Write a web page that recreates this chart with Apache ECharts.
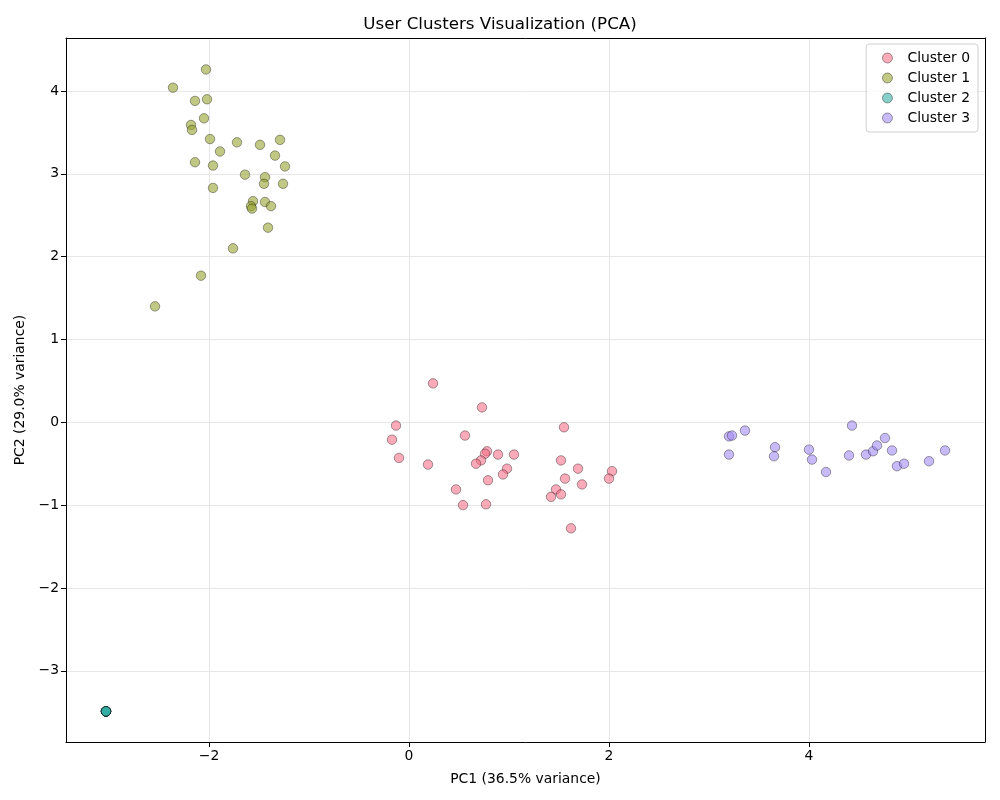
<!DOCTYPE html>
<html>
<head>
<meta charset="utf-8">
<title>User Clusters Visualization (PCA)</title>
<script src="https://cdn.jsdelivr.net/npm/echarts/dist/echarts.min.js"></script>
<style>
    html, body { margin: 0; padding: 0; background: #fff; }
    #pca-cluster-chart { width: 1000px; height: 800px; }
</style>
</head>
<body>
<div id="pca-cluster-chart"></div>
<script>
// values, [PC1, PC2]
var clusterNames = ['Cluster 0', 'Cluster 1', 'Cluster 2', 'Cluster 3'];
var clusterColors = ['#f77189', '#97a431', '#36ada4', '#a48cf4'];

var cluster0 = [
    [0.24, 0.47], [0.73, 0.18], [-0.13, -0.04], [-0.17, -0.21], [0.56, -0.16],
    [-0.10, -0.43], [0.19, -0.51], [0.78, -0.35], [0.76, -0.38], [0.89, -0.39],
    [0.72, -0.46], [0.67, -0.50], [0.98, -0.56], [0.94, -0.63], [0.79, -0.70],
    [0.47, -0.81], [0.54, -1.00], [0.77, -0.99], [1.05, -0.39], [1.55, -0.06],
    [1.52, -0.46], [1.69, -0.56], [1.56, -0.68], [1.73, -0.75], [1.47, -0.81],
    [1.42, -0.90], [1.52, -0.87], [2.03, -0.59], [2.00, -0.68], [1.62, -1.28]
];
var cluster1 = [
    [-2.03, 4.26], [-2.36, 4.04], [-2.14, 3.88], [-2.02, 3.90], [-2.05, 3.67],
    [-2.18, 3.59], [-2.17, 3.53], [-1.99, 3.42], [-1.72, 3.38], [-1.49, 3.35],
    [-1.29, 3.41], [-1.89, 3.27], [-1.34, 3.22], [-2.14, 3.14], [-1.96, 3.10],
    [-1.24, 3.09], [-1.64, 2.99], [-1.44, 2.96], [-1.45, 2.88], [-1.26, 2.88],
    [-1.96, 2.83], [-1.56, 2.67], [-1.44, 2.66], [-1.38, 2.61], [-1.58, 2.61],
    [-1.57, 2.58], [-1.41, 2.35], [-1.76, 2.10], [-2.08, 1.77], [-2.54, 1.40]
];
var cluster2 = [
    [-3.03, -3.49], [-3.03, -3.49], [-3.03, -3.49], [-3.03, -3.49], [-3.03, -3.49],
    [-3.03, -3.49], [-3.03, -3.49], [-3.03, -3.49], [-3.03, -3.49], [-3.03, -3.49]
];
var cluster3 = [
    [3.20, -0.17], [3.23, -0.16], [3.36, -0.10], [3.20, -0.39], [3.66, -0.30],
    [3.65, -0.41], [4.00, -0.33], [4.03, -0.45], [4.17, -0.60], [4.43, -0.04],
    [4.40, -0.40], [4.57, -0.39], [4.64, -0.35], [4.68, -0.28], [4.76, -0.19],
    [4.83, -0.34], [4.88, -0.53], [4.95, -0.50], [5.20, -0.47], [5.36, -0.34]
];
var clusters = [cluster0, cluster1, cluster2, cluster3];

// axis extents as drawn
var xRange = [-3.43, 5.76];
var yRange = [-3.86, 4.64];

var pcaChart = echarts.init(document.getElementById('pca-cluster-chart'));

function tickText(v) {
    // matplotlib writes a real minus sign
    return String(v).replace('-', '\u2212');
}

function buildSeries() {
    var serie = [];
    for (var i = 0; i < clusters.length; i++) {
        serie.push({
            name: clusterNames[i],
            type: 'scatter',
            data: clusters[i],
            symbol: 'circle',
            symbolSize: 9.5,
            itemStyle: {
                color: clusterColors[i],
                opacity: 0.6,
                borderColor: '#000',
                borderWidth: 0.6
            },
            emphasis: { disabled: true }
        });
    }
    return serie;
}

function legendData() {
    var items = [];
    for (var i = 0; i < clusterNames.length; i++) {
        items.push({
            name: clusterNames[i],
            itemStyle: { color: clusterColors[i], opacity: 0.6, borderColor: '#000', borderWidth: 0.6 }
        });
    }
    return items;
}

function axisStyle(name, gap) {
    return {
        type: 'value',
        name: name,
        nameLocation: 'middle',
        nameGap: gap,
        nameTextStyle: { fontSize: 13.9, color: '#000' },
        axisLine: { show: true, onZero: false, lineStyle: { color: '#000', width: 1 } },
        axisTick: { show: true, inside: false, length: 5, lineStyle: { color: '#000' } },
        axisLabel: {
            fontSize: 13.9, color: '#000', margin: 7,
            showMinLabel: false, showMaxLabel: false,
            formatter: tickText
        },
        splitLine: { show: true, lineStyle: { color: '#e7e7e7', width: 1 } }
    };
}

// top / right spines only
function spineAxis(position, range) {
    return {
        type: 'value',
        position: position,
        min: range[0],
        max: range[1],
        axisLine: { show: true, onZero: false, lineStyle: { color: '#000', width: 1 } },
        axisTick: { show: false },
        axisLabel: { show: false },
        splitLine: { show: false }
    };
}

var xAxisOpt = axisStyle('PC1 (36.5% variance)', 30);
xAxisOpt.min = xRange[0];
xAxisOpt.max = xRange[1];
xAxisOpt.splitNumber = 5;

var yAxisOpt = axisStyle('PC2 (29.0% variance)', 34);
yAxisOpt.min = yRange[0];
yAxisOpt.max = yRange[1];
yAxisOpt.splitNumber = 9;

pcaChart.setOption({
    animation: false,
    textStyle: { fontFamily: 'DejaVu Sans' },
    title: {
        text: 'User Clusters Visualization (PCA)',
        left: 'center',
        top: 11,
        textStyle: { fontSize: 16.7, fontWeight: 'normal', color: '#000', fontFamily: 'DejaVu Sans' }
    },
    legend: {
        orient: 'vertical',
        right: 22,
        top: 44,
        padding: [7, 8, 7, 16],
        itemGap: 6,
        itemWidth: 10,
        itemHeight: 14,
        icon: 'circle',
        backgroundColor: 'rgba(255,255,255,0.8)',
        borderColor: '#d0d0d0',
        borderWidth: 1,
        borderRadius: 3,
        textStyle: { fontSize: 13.9, color: '#000', padding: [0, 0, 0, 10], fontFamily: 'DejaVu Sans' },
        data: legendData()
    },
    grid: {
        left: 66,
        top: 38,
        width: 919,
        height: 704
    },
    xAxis: [xAxisOpt, spineAxis('top', xRange)],
    yAxis: [yAxisOpt, spineAxis('right', yRange)],
    series: buildSeries()
});
</script>
</body>
</html>
